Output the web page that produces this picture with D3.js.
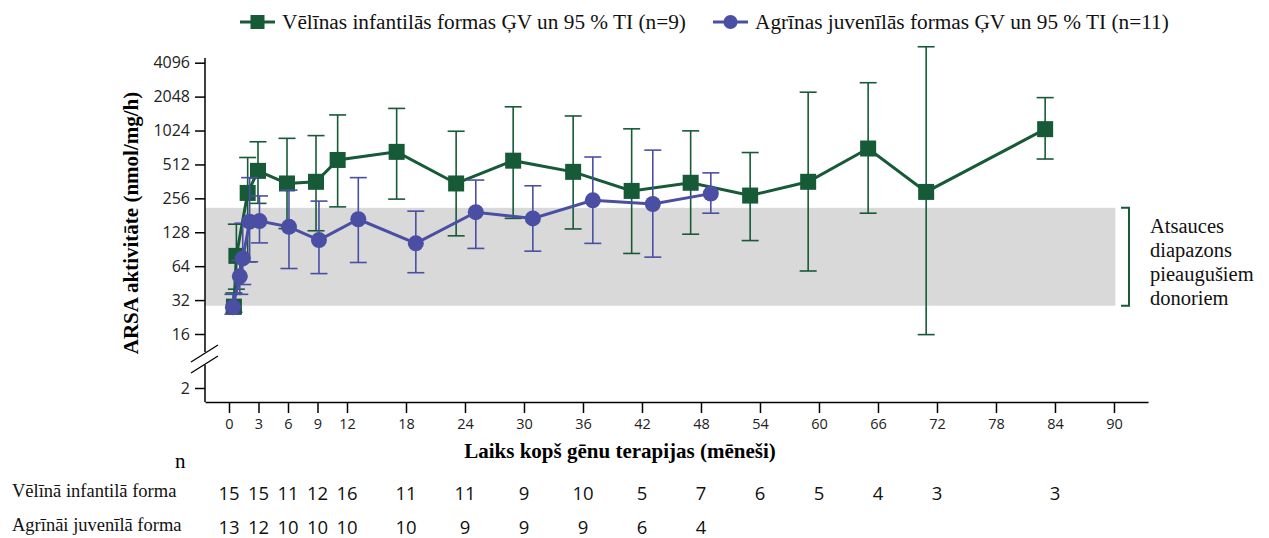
<!DOCTYPE html>
<html><head><meta charset="utf-8">
<script src="https://cdn.jsdelivr.net/npm/d3@7"></script>
<style>body{margin:0;background:#fff}</style>
</head><body><svg id="c" width="1269" height="538"></svg>
<script>
// ---- data ----
const seriesNames = ["Vēlīnas infantilās formas ĢV un 95 % TI (n=9)", "Agrīnas juvenīlās formas ĢV un 95 % TI (n=11)"];
const greenMonths = [0.5, 0.75, 1.9, 2.95, 5.9, 8.85, 11.05, 17.05, 23.1, 28.9, 35.0, 40.95, 46.95, 53.0, 58.9, 65.0, 70.9, 83.0];
const greenValues = [28, 79, 286, 449, 347, 359, 561, 662, 347, 553, 440, 298, 352, 271, 359, 709, 292, 1053];
const greenLower  = [25, 40, 70, 231, 138, 132, 215, 252, 119, 170, 137, 83, 123, 108, 58, 189, 15.8, 572];
const greenUpper  = [37, 151, 590, 814, 873, 923, 1408, 1609, 1009, 1663, 1379, 1060, 1017, 653, 2241, 2721, 5674, 2006];

const blueMonths = [0.4, 1.1, 1.4, 2.1, 3.1, 6.1, 9.15, 13.15, 19.0, 25.1, 30.9, 37.0, 43.1, 49.0];
const blueValues = [27.7, 52, 75, 159, 161, 143, 109, 167, 102, 193, 170, 246, 228, 282];
const blueLower  = [24, 36, 44, 70, 103, 61, 55, 69, 56, 92, 87, 102, 77, 189];
const blueUpper  = [36, 72, 154, 391, 269, 303, 242, 391, 197, 372, 331, 596, 686, 431];

const xTicks = [0,3,6,9,12,18,24,30,36,42,48,54,60,66,72,78,84,90];
const yTicks = [16,32,64,128,256,512,1024,2048,4096];
const yBreakTicks = [2];
const refRange = [28.5, 211];
const refLabel = ["Atsauces", "diapazons", "pieaugušiem", "donoriem"];

const tableRowLabels = ["Vēlīnā infantilā forma", "Agrīnāi juvenīlā forma"];
const tableMonthsLate = [0,3,6,9,12,18,24,30,36,42,48,54,60,66,72,84];
const nLate = [15,15,11,12,16,11,11,9,10,5,7,6,5,4,3,3];
const tableMonthsEarly = [0,3,6,9,12,18,24,30,36,42,48];
const nEarly = [13,12,10,10,10,10,9,9,9,6,4];

const xTitle = "Laiks kopš gēnu terapijas (mēneši)";
const yTitle = "ARSA aktivitāte (nmol/mg/h)";

// ---- styles / layout ----
const GREEN = "#165a38", BLUE = "#4a4fa3", GREY = "#d9d9d9";
const serif = "'Liberation Serif','Times New Roman','DejaVu Serif',serif";
const sans = "'Open Sans','Liberation Sans',sans-serif";
const axisX = 205, axisY = 402, axisTop = 58, breakTop = 352, breakBot = 365, axisRight = 1148;

const svg = d3.select("#c");
const x = d3.scaleLinear().domain([-2.44, 93.46]).range([axisX, axisRight]);
const y = d3.scaleLog().base(2).domain([16, 4096]).range([334, 62.7]);
const yLow = d3.scaleLog().base(2).domain([2, 4]).range([388, 354]);

// reference band
svg.append("rect")
  .attr("x", axisX).attr("width", x(90.15) - axisX)
  .attr("y", y(refRange[1])).attr("height", y(refRange[0]) - y(refRange[1]))
  .attr("fill", GREY);

// y axis (main part)
const yAx = svg.append("g").attr("transform", `translate(${axisX},0)`)
  .call(d3.axisLeft(y).tickValues(yTicks).tickFormat(d3.format("d")).tickSize(10).tickPadding(5));
yAx.select(".domain").remove();
const yAx2 = svg.append("g").attr("transform", `translate(${axisX},0)`)
  .call(d3.axisLeft(yLow).tickValues(yBreakTicks).tickFormat(d3.format("d")).tickSize(10).tickPadding(5));
yAx2.select(".domain").remove();
[yAx, yAx2].forEach(g => {
  g.selectAll("text").attr("font-family", sans).attr("font-size", 16).attr("fill", "#222");
  g.selectAll("line").attr("stroke", "#000").attr("stroke-width", 1.5);
});
svg.append("line").attr("x1", axisX).attr("x2", axisX).attr("y1", axisTop).attr("y2", breakTop).attr("stroke", "#000").attr("stroke-width", 1.5);
svg.append("line").attr("x1", axisX).attr("x2", axisX).attr("y1", breakBot).attr("y2", axisY).attr("stroke", "#000").attr("stroke-width", 1.5);
// break marks
[0, 11].forEach(dy => {
  svg.append("line").attr("x1", axisX - 14).attr("y1", 362 + dy).attr("x2", axisX + 13).attr("y2", 345 + dy)
    .attr("stroke", "#000").attr("stroke-width", 1.3);
});

// x axis
const xAx = svg.append("g").attr("transform", `translate(0,${axisY})`)
  .call(d3.axisBottom(x).tickValues(xTicks).tickSize(11).tickPadding(6).tickSizeOuter(0));
xAx.select(".domain").attr("stroke", "#000").attr("stroke-width", 1.5);
xAx.selectAll("line").attr("stroke", "#000").attr("stroke-width", 1.5);
xAx.selectAll("text").attr("font-family", sans).attr("font-size", 14.5).attr("fill", "#222");

// titles
svg.append("text").attr("x", 620).attr("y", 458).attr("text-anchor", "middle")
  .attr("font-family", serif).attr("font-weight", "bold").attr("font-size", 21).text(xTitle);
svg.append("text").attr("transform", "translate(138,223) rotate(-90)").attr("text-anchor", "middle")
  .attr("font-family", serif).attr("font-weight", "bold").attr("font-size", 21).text(yTitle);

// series drawing
function drawSeries(months, vals, lo, hi, color, shape) {
  const g = svg.append("g");
  const idx = d3.range(months.length);
  const cap = 8.5;
  idx.forEach(i => {
    const cx = x(months[i]);
    g.append("line").attr("x1", cx).attr("x2", cx).attr("y1", y(lo[i])).attr("y2", y(hi[i]))
      .attr("stroke", color).attr("stroke-width", 1.6);
    [lo[i], hi[i]].forEach(v => g.append("line").attr("x1", cx - cap).attr("x2", cx + cap)
      .attr("y1", y(v)).attr("y2", y(v)).attr("stroke", color).attr("stroke-width", 1.6));
  });
  g.append("path").datum(idx)
    .attr("d", d3.line().x(i => x(months[i])).y(i => y(vals[i])))
    .attr("fill", "none").attr("stroke", color).attr("stroke-width", 3);
  idx.forEach(i => {
    if (shape === "square") {
      g.append("rect").attr("x", x(months[i]) - 8).attr("y", y(vals[i]) - 8)
        .attr("width", 16).attr("height", 16).attr("fill", color);
    } else {
      g.append("circle").attr("cx", x(months[i])).attr("cy", y(vals[i])).attr("r", 8).attr("fill", color);
    }
  });
}
drawSeries(greenMonths, greenValues, greenLower, greenUpper, GREEN, "square");
drawSeries(blueMonths, blueValues, blueLower, blueUpper, BLUE, "circle");

// bracket for reference range
const bx = 1129;
svg.append("path")
  .attr("d", `M${bx - 8},${y(refRange[1])} H${bx} V${y(refRange[0])} H${bx - 8}`)
  .attr("fill", "none").attr("stroke", GREEN).attr("stroke-width", 2);
refLabel.forEach((t, i) => {
  svg.append("text").attr("x", 1150).attr("y", 233 + i * 24)
    .attr("font-family", serif).attr("font-size", 20.5).attr("fill", "#111").text(t);
});

// legend
const legend = [
  { x0: 240, color: GREEN, shape: "square", text: seriesNames[0] },
  { x0: 713, color: BLUE, shape: "circle", text: seriesNames[1] }
];
legend.forEach(l => {
  const ly = 22;
  svg.append("line").attr("x1", l.x0).attr("x2", l.x0 + 35).attr("y1", ly).attr("y2", ly)
    .attr("stroke", l.color).attr("stroke-width", 3);
  if (l.shape === "square") {
    svg.append("rect").attr("x", l.x0 + 17.5 - 7).attr("y", ly - 7).attr("width", 14).attr("height", 14).attr("fill", l.color);
  } else {
    svg.append("circle").attr("cx", l.x0 + 17.5).attr("cy", ly).attr("r", 7).attr("fill", l.color);
  }
  svg.append("text").attr("x", l.x0 + 42).attr("y", ly + 7)
    .attr("font-family", serif).attr("font-size", 21.3).attr("fill", "#111").text(l.text);
});

// n table
svg.append("text").attr("x", 175).attr("y", 468).attr("font-family", serif).attr("font-size", 21).text("n");
tableRowLabels.forEach((t, i) => {
  svg.append("text").attr("x", 12).attr("y", 497 + i * 34)
    .attr("font-family", serif).attr("font-size", 18.5).attr("fill", "#111").text(t);
});
[[tableMonthsLate, nLate], [tableMonthsEarly, nEarly]].forEach(([ms, ns], r) => {
  ms.forEach((m, i) => {
    svg.append("text").attr("x", x(m)).attr("y", 500 + r * 34).attr("text-anchor", "middle")
      .attr("font-family", sans).attr("font-size", 18.5).attr("fill", "#111").text(ns[i]);
  });
});
</script>
</body></html>
